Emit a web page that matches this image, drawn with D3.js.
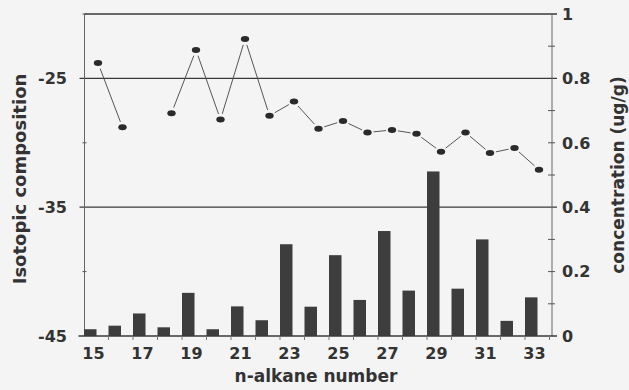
<!DOCTYPE html>
<html>
<head>
<meta charset="utf-8">
<script src="https://cdn.jsdelivr.net/npm/d3@7"></script>
<style>
  html, body { margin: 0; padding: 0; background: #f4f4f4; }
  svg { display: block; }
  text { font-family: "DejaVu Sans", sans-serif; font-weight: bold; fill: #333; }
</style>
</head>
<body>
<svg id="chart" width="629" height="390"></svg>
<script>
// n-alkane carbon numbers
const carbons = [15, 16, 17, 18, 19, 20, 21, 22, 23, 24, 25, 26, 27, 28, 29, 30, 31, 32, 33];
// concentration (ug/g), bars, right axis
const concentration = [0.021, 0.032, 0.070, 0.027, 0.134, 0.021, 0.092, 0.049, 0.285, 0.091,
                       0.251, 0.112, 0.326, 0.141, 0.511, 0.147, 0.300, 0.047, 0.120];
// isotopic composition (per mil), points, left axis; null = not measured
const isotopic = [-23.8, -28.8, null, -27.7, -22.8, -28.2, -21.95, -27.9, -26.8, -28.9,
                  -28.3, -29.2, -29.0, -29.3, -30.7, -29.2, -30.8, -30.4, -32.1];
// axis ticks
const xTickLabels = [15, 17, 19, 21, 23, 25, 27, 29, 31, 33];
const leftTickLabels = [-25, -35, -45];
const leftMinorTicks = [-20, -30, -40];
const rightTickLabels = [0, 0.2, 0.4, 0.6, 0.8, 1];
const rightMinorTicks = [0.1, 0.2, 0.3, 0.5, 0.6, 0.7, 0.9];
const gridValues = [-25, -35];

const svg = d3.select("#chart");
const W = 629, H = 390;
const x0 = 84.5, x1 = 552, yTop = 14, yBot = 336;

svg.append("rect").attr("width", W).attr("height", H).attr("fill", "#f4f4f4");

// one slot per carbon number; bar sits at the left of its slot
const slot = d3.scaleBand().domain(carbons).range([84, 549.5]).paddingInner(0).paddingOuter(0);
const barW = slot.step() * 0.51;
const yL = d3.scaleLinear().domain([-45, -20]).range([yBot, yTop]);
const yR = d3.scaleLinear().domain([0, 1]).range([yBot, yTop]);

const ink = "#3a3a3a";

// frame lines: top, grid at -25 / -35, baseline
svg.append("line").attr("x1", x0).attr("x2", x1 + 5).attr("y1", yL(-20)).attr("y2", yL(-20))
  .attr("stroke", ink).attr("stroke-width", 1.4);
svg.selectAll("line.grid").data(gridValues).join("line").attr("class", "grid")
  .attr("x1", x0 - 5).attr("x2", x1 + 5)
  .attr("y1", d => yL(d)).attr("y2", d => yL(d))
  .attr("stroke", ink).attr("stroke-width", 1.3);

// vertical axes
svg.append("line").attr("x1", x0).attr("x2", x0).attr("y1", yTop).attr("y2", yBot)
  .attr("stroke", "#666").attr("stroke-width", 1);
svg.append("line").attr("x1", x1).attr("x2", x1).attr("y1", yTop).attr("y2", yBot)
  .attr("stroke", "#666").attr("stroke-width", 1);

// crossing minor ticks
svg.selectAll("line.lt").data(leftMinorTicks).join("line").attr("class", "lt")
  .attr("x1", x0 - 2).attr("x2", x0 + 2)
  .attr("y1", d => yL(d)).attr("y2", d => yL(d))
  .attr("stroke", "#555").attr("stroke-width", 1);
svg.selectAll("line.rt").data(rightMinorTicks).join("line").attr("class", "rt")
  .attr("x1", x1 - 4).attr("x2", x1 + 3)
  .attr("y1", d => yR(d)).attr("y2", d => yR(d))
  .attr("stroke", "#555").attr("stroke-width", 1);

// bars
svg.selectAll("rect.bar").data(carbons).join("rect").attr("class", "bar")
  .attr("x", d => slot(d))
  .attr("width", barW)
  .attr("y", (d, i) => yR(concentration[i]))
  .attr("height", (d, i) => yBot - yR(concentration[i]))
  .attr("fill", "#3d3d3d");

// baseline (drawn over bar bottoms)
svg.append("line").attr("x1", x0 - 6).attr("x2", x1 + 5).attr("y1", yBot).attr("y2", yBot)
  .attr("stroke", ink).attr("stroke-width", 1.4);

// slot ticks below the baseline
svg.selectAll("line.xt").data(carbons.slice(1).concat([34])).join("line").attr("class", "xt")
  .attr("x1", (d, i) => slot.range()[0] + (i + 1) * slot.step())
  .attr("x2", (d, i) => slot.range()[0] + (i + 1) * slot.step())
  .attr("y1", yBot).attr("y2", yBot + 4)
  .attr("stroke", "#777").attr("stroke-width", 1);

// isotopic points and connecting segments (gaps around markers)
const px = d => slot(d) + 14;
const pts = carbons.map((c, i) => ({ c, v: isotopic[i] }));
const gap = 6;
const segs = [];
for (let i = 0; i < pts.length - 1; i++) {
  const a = pts[i], b = pts[i + 1];
  if (a.v === null || b.v === null) continue;
  const ax = px(a.c), ay = yL(a.v), bx = px(b.c), by = yL(b.v);
  const len = Math.hypot(bx - ax, by - ay);
  const ux = (bx - ax) / len, uy = (by - ay) / len;
  segs.push([[ax + ux * gap, ay + uy * gap], [bx - ux * gap, by - uy * gap]]);
}
const line = d3.line();
svg.selectAll("path.seg").data(segs).join("path").attr("class", "seg")
  .attr("d", d => line(d))
  .attr("fill", "none").attr("stroke", "#555").attr("stroke-width", 1);
svg.selectAll("ellipse.pt").data(pts.filter(p => p.v !== null)).join("ellipse").attr("class", "pt")
  .attr("cx", d => px(d.c)).attr("cy", d => yL(d.v))
  .attr("rx", 4.2).attr("ry", 3)
  .attr("fill", "#2a2a2a");

// tick labels
svg.selectAll("text.xl").data(xTickLabels).join("text").attr("class", "xl")
  .attr("x", d => slot(d) + 9.5).attr("y", 359)
  .attr("text-anchor", "middle").attr("font-size", 16).text(d => d);
svg.selectAll("text.ll").data(leftTickLabels).join("text").attr("class", "ll")
  .attr("x", 67).attr("y", d => yL(d)).attr("dy", "0.36em")
  .attr("text-anchor", "end").attr("font-size", 16).text(d => d);
svg.selectAll("text.rl").data(rightTickLabels).join("text").attr("class", "rl")
  .attr("x", 562).attr("y", d => yR(d)).attr("dy", "0.36em")
  .attr("text-anchor", "start").attr("font-size", 16).text(d => d);

// axis titles
svg.append("text").attr("x", 316).attr("y", 381.5).attr("text-anchor", "middle")
  .attr("font-size", 17).text("n-alkane number");
svg.append("text").attr("transform", "translate(25.5,179) rotate(-90)")
  .attr("text-anchor", "middle").attr("font-size", 18).text("Isotopic composition");
svg.append("text").attr("transform", "translate(623.5,175) rotate(-90)")
  .attr("text-anchor", "middle").attr("font-size", 17).text("concentration (ug/g)");
</script>
</body>
</html>
